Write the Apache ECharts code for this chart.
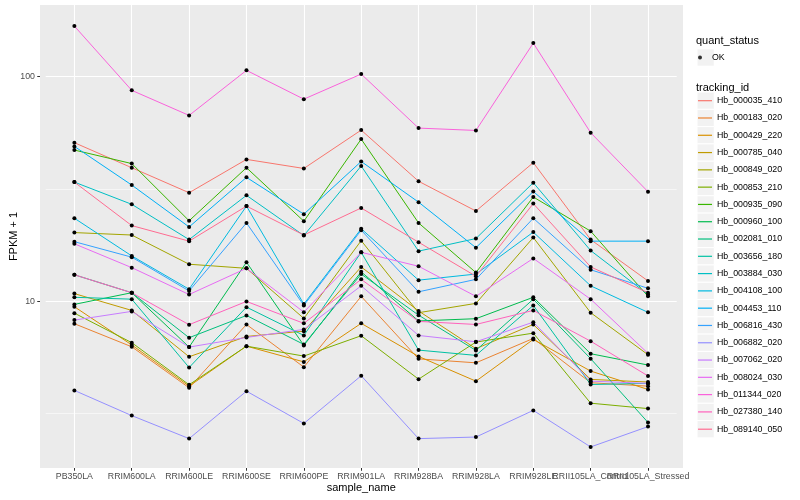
<!DOCTYPE html>
<html>
<head>
<meta charset="utf-8">
<script src="https://cdn.jsdelivr.net/npm/echarts@6/dist/echarts.min.js"></script>
<style>
html,body{margin:0;padding:0;background:#fff;}
#chart{width:800px;height:500px;}
</style>
</head>
<body>
<div id="chart"></div>
<script>
const categories = ["PB350LA","RRIM600LA","RRIM600LE","RRIM600SE","RRIM600PE","RRIM901LA","RRIM928BA","RRIM928LA","RRIM928LE","RRII105LA_Control","RRII105LA_Stressed"];
const yTickValues = [10, 100];
const yMinorValues = [3.1623, 31.623];

const hb_000035_410 = [50.8, 39.3, 30.4, 42.8, 39.0, 57.8, 34.2, 25.2, 41.4, 18.8, 12.3];
const hb_000183_020 = [7.93, 6.26, 4.11, 7.87, 5.08, 10.5, 5.53, 5.31, 6.82, 4.33, 4.18];
const hb_000429_220 = [9.44, 6.38, 4.18, 6.30, 5.36, 7.96, 5.67, 4.40, 6.75, 4.88, 4.04];
const hb_000785_040 = [10.8, 9.09, 5.65, 6.96, 7.35, 14.2, 9.04, 6.14, 7.87, 4.48, 4.36];
const hb_000849_020 = [20.2, 19.7, 14.6, 14.0, 8.37, 18.6, 8.88, 9.77, 19.2, 8.88, 5.77];
const hb_000853_210 = [8.84, 6.53, 4.24, 6.30, 5.69, 7.01, 4.49, 6.57, 7.20, 3.51, 3.32];
const hb_000935_090 = [47.1, 41.0, 22.8, 39.3, 22.7, 52.7, 22.3, 13.4, 29.1, 20.5, 10.5];
const hb_000960_100 = [9.67, 10.9, 6.24, 14.9, 6.35, 13.5, 8.16, 8.35, 10.4, 5.83, 5.19];
const hb_002081_010 = [13.1, 10.9, 6.87, 8.63, 6.41, 13.2, 8.66, 6.03, 10.2, 5.54, 2.88];
const hb_003656_180 = [10.4, 10.2, 5.06, 9.40, 7.03, 16.5, 6.05, 5.73, 9.57, 4.25, 4.30];
const hb_003884_030 = [33.9, 27.0, 18.8, 29.6, 19.6, 40.0, 16.7, 19.0, 33.7, 16.8, 10.7];
const hb_004108_100 = [23.4, 15.9, 11.3, 26.5, 9.70, 21.0, 12.4, 13.2, 20.3, 11.7, 8.91];
const hb_004453_110 = [48.9, 32.9, 21.4, 35.6, 24.4, 41.9, 27.6, 17.3, 30.8, 18.5, 18.5];
const hb_006816_430 = [18.4, 15.7, 11.1, 22.3, 9.57, 20.7, 11.0, 12.5, 23.4, 13.8, 11.4];
const hb_006882_020 = [4.00, 3.09, 2.44, 3.97, 2.85, 4.65, 2.44, 2.48, 3.26, 2.24, 2.76];
const hb_007062_020 = [8.23, 9.00, 6.24, 6.89, 7.48, 11.7, 7.03, 6.59, 8.06, 4.40, 4.30];
const hb_008024_030 = [18.0, 14.1, 10.7, 14.0, 8.93, 16.5, 14.3, 10.5, 15.5, 10.2, 5.85];
const hb_011344_020 = [168, 86.9, 67.2, 106.7, 79.4, 102.7, 59.0, 57.6, 141.1, 56.3, 30.7];
const hb_027380_140 = [13.1, 10.9, 7.85, 9.97, 7.96, 12.5, 8.12, 7.87, 9.09, 6.63, 4.64];
const hb_089140_050 = [33.9, 21.7, 18.5, 26.5, 19.7, 26.0, 18.3, 12.9, 27.2, 14.2, 10.9];

const trackingIds = ["Hb_000035_410","Hb_000183_020","Hb_000429_220","Hb_000785_040","Hb_000849_020","Hb_000853_210","Hb_000935_090","Hb_000960_100","Hb_002081_010","Hb_003656_180","Hb_003884_030","Hb_004108_100","Hb_004453_110","Hb_006816_430","Hb_006882_020","Hb_007062_020","Hb_008024_030","Hb_011344_020","Hb_027380_140","Hb_089140_050"];
const seriesValues = [hb_000035_410, hb_000183_020, hb_000429_220, hb_000785_040, hb_000849_020, hb_000853_210, hb_000935_090, hb_000960_100, hb_002081_010, hb_003656_180, hb_003884_030, hb_004108_100, hb_004453_110, hb_006816_430, hb_006882_020, hb_007062_020, hb_008024_030, hb_011344_020, hb_027380_140, hb_089140_050];
const colors = ["#F8766D","#EA8331","#D89000","#C09B00","#A3A500","#7CAE00","#39B600","#00BB4E","#00BF7D","#00C1A3","#00BFC4","#00BAE0","#00B0F6","#35A2FF","#9590FF","#C77CFF","#E76BF3","#FA62DB","#FF62BC","#FF6C91"];

const FONT = "Liberation Sans, Arial, Helvetica, sans-serif";
const chart = echarts.init(document.getElementById('chart'), null, {renderer: 'canvas'});

const series = trackingIds.map((id, i) => ({
  name: id,
  type: 'line',
  data: seriesValues[i],
  symbol: 'circle',
  symbolSize: 4,
  showSymbol: true,
  itemStyle: {color: '#000000'},
  lineStyle: {color: colors[i], width: 1},
  emphasis: {disabled: true},
  animation: false,
  z: 3
}));
series[0].markLine = {
  silent: true,
  symbol: 'none',
  z: 1,
  label: {show: false},
  lineStyle: {color: '#FFFFFF', width: 0.55, type: 'solid'},
  emphasis: {disabled: true},
  animation: false,
  data: yMinorValues.map(v => ({yAxis: v}))
};
series.push({name: 'OK', type: 'scatter', data: [], itemStyle: {color: '#000'}, animation: false});

const keyTop = 92.05, keyStep = 17.29;
const graphics = [
  {type: 'rect', shape: {x: 40, y: 5, width: 643, height: 463}, style: {fill: '#EBEBEB'}, z: -10, silent: true},
  {type: 'text', left: 696, top: 35, style: {text: 'quant_status', font: '11px ' + FONT, fill: '#000'}, z: 5},
  {type: 'text', left: 696, top: 82, style: {text: 'tracking_id', font: '11px ' + FONT, fill: '#000'}, z: 5},
  {type: 'rect', shape: {x: 697, y: 48.9, width: 17.28, height: 17.28}, style: {fill: '#F2F2F2', stroke: '#FFFFFF', lineWidth: 1}, z: -5, silent: true}
];
trackingIds.forEach((id, i) => {
  graphics.push({type: 'rect', shape: {x: 697, y: keyTop + keyStep * i, width: 17.28, height: keyStep}, style: {fill: '#F2F2F2', stroke: '#FFFFFF', lineWidth: 1}, z: -5, silent: true});
});

const option = {
  animation: false,
  backgroundColor: '#FFFFFF',
  textStyle: {fontFamily: FONT},
  grid: {left: 45.7, right: 123.3, top: 5, bottom: 32, containLabel: false, outerBoundsMode: 'none'},
  graphic: graphics,
  legend: [
    {
      data: [{name: 'OK', icon: 'circle', itemStyle: {color: '#000'}}],
      orient: 'vertical', left: 698, top: 48.9, padding: 0,
      itemWidth: 14, itemHeight: 4, itemGap: 0,
      textStyle: {fontSize: 8.8, color: '#000', fontFamily: FONT, lineHeight: 17.28},
      selectedMode: false
    },
    {
      data: trackingIds.map((id, i) => ({name: id, icon: 'rect', itemStyle: {color: colors[i]}})),
      orient: 'vertical', left: 698, top: keyTop, padding: 0,
      itemWidth: 14, itemHeight: 1.2, itemGap: 0,
      textStyle: {fontSize: 8.8, color: '#000', fontFamily: FONT, lineHeight: keyStep},
      selectedMode: false
    }
  ],
  xAxis: {
    type: 'category',
    data: categories,
    boundaryGap: true,
    name: 'sample_name',
    nameLocation: 'middle',
    nameGap: 14,
    nameMoveOverlap: false,
    nameTextStyle: {fontSize: 11, color: '#000', fontFamily: FONT},
    axisLine: {show: false},
    axisTick: {show: true, alignWithLabel: true, length: 2.75, lineStyle: {color: '#333333', width: 1}},
    axisLabel: {interval: 0, fontSize: 8.8, color: '#4D4D4D', margin: 4, fontFamily: FONT},
    splitLine: {show: true, alignWithLabel: true, interval: 0, lineStyle: {color: '#FFFFFF', width: 1.1}}
  },
  yAxis: {
    type: 'log',
    logBase: 10,
    min: 1.805,
    max: 208.6,
    offset: 5.7,
    name: 'FPKM + 1',
    nameLocation: 'middle',
    nameRotate: 90,
    nameGap: 21,
    nameMoveOverlap: false,
    nameTextStyle: {fontSize: 11, color: '#000', fontFamily: FONT},
    axisLine: {show: false},
    axisTick: {show: true, length: 2.75, customValues: yTickValues, lineStyle: {color: '#333333', width: 1}},
    axisLabel: {fontSize: 8.8, color: '#4D4D4D', margin: 5, customValues: yTickValues, fontFamily: FONT},
    splitLine: {show: true, lineStyle: {color: '#FFFFFF', width: 1.1}},
    minorSplitLine: {show: false}
  },
  series: series
};
chart.setOption(option);
</script>
</body>
</html>
